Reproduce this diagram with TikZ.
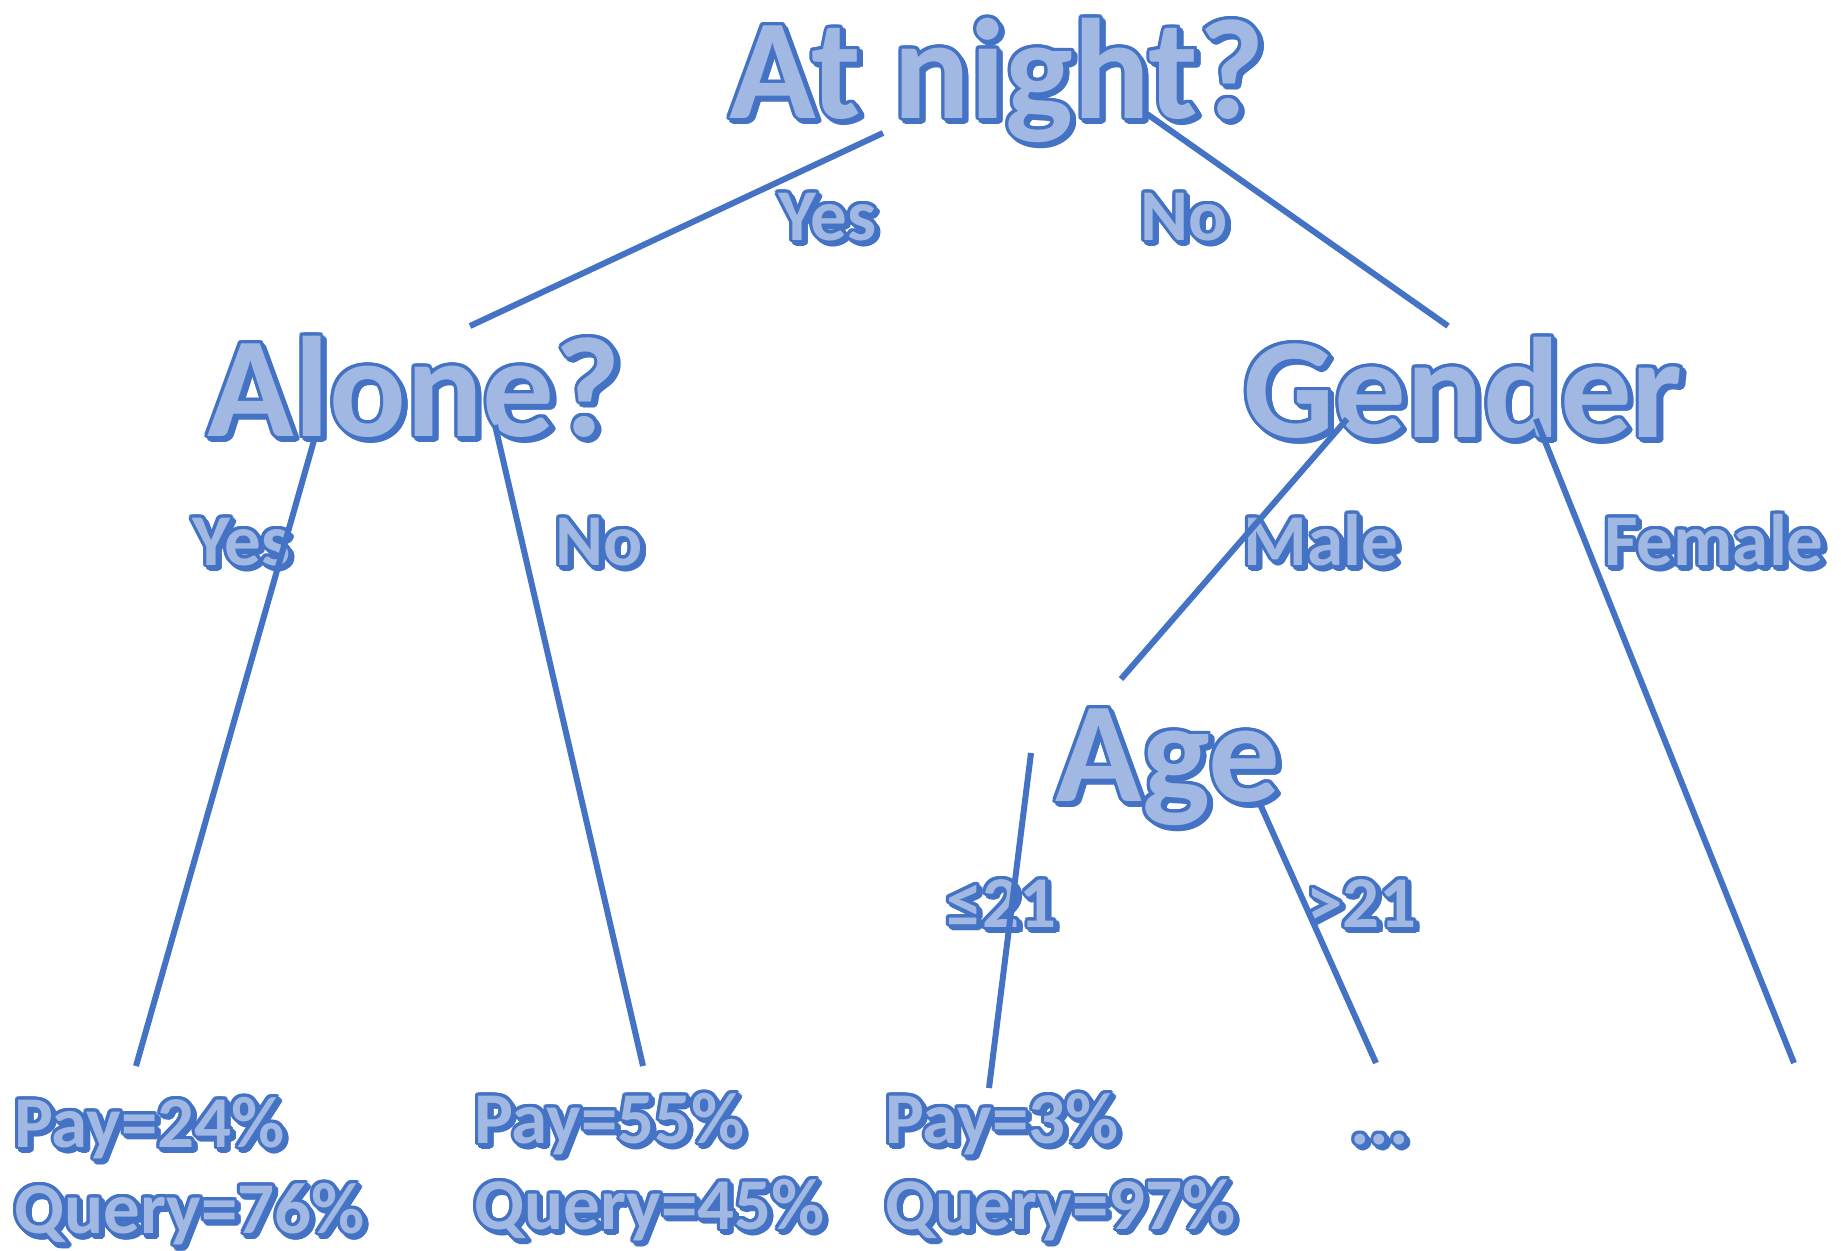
\documentclass[tikz,border=0pt]{standalone}
\usepackage{fontspec}
\setmainfont{Carlito}
\usepackage{xcolor}
\definecolor{artline}{HTML}{4472C4}
\definecolor{artfill}{RGB}{160,184,226}
\newlength\artw
\setlength\artw{1.5pt}
% outlined text with a small drop shadow
\newcommand\wordart[1]{%
  \foreach \ang in {0,22.5,...,337.5}{%
    \pgfmathsetlengthmacro\artdx{\artw*cos(\ang)}%
    \pgfmathsetlengthmacro\artdy{\artw*sin(\ang)}%
    \rlap{\kern\dimexpr\artdx+1.6pt\relax\raisebox{\dimexpr\artdy-1.6pt\relax}{\color{artline}#1}}%
    \rlap{\kern\artdx\raisebox{\artdy}{\color{artline}#1}}}%
  {\color{artfill}#1}}

\begin{document}
\begin{tikzpicture}[x=0.5pt,y=-0.5pt,
	question/.style={font=\fontsize{71.5}{76}\selectfont\bfseries, inner sep=0pt, anchor=base west},
	answer/.style={font=\fontsize{36.5}{40}\selectfont\bfseries, inner sep=0pt, anchor=base west},
	leaf/.style={font=\fontsize{36.5}{40}\selectfont\bfseries, inner sep=0pt, anchor=base west},
	branch/.style={draw=artline, line width=3pt}]
	\useasboundingbox (0,0) rectangle (1841,1250);
	% questions
	\node[question] (night) at (729,118) {\wordart{At night?}};
	\node[question] (alone) at (207,436) {\wordart{Alone?}};
	\node[question] (gender) at (1243,437) {\wordart{Gender}};
	\node[question] (age) at (1055,801) {\wordart{Age}};
	% answers
	\node[answer] (n-yes) at (778,240) {\wordart{Yes}};
	\node[answer] (n-no) at (1140,240) {\wordart{No}};
	\node[answer] (a-yes) at (192,565) {\wordart{Yes}};
	\node[answer] (a-no) at (555,565) {\wordart{No}};
	\node[answer] (g-male) at (1243,565) {\wordart{Male}};
	\node[answer] (g-female) at (1604,565) {\wordart{Female}};
	\node[answer] (age-le) at (946,927) {\wordart{≤21}};
	\node[answer] (age-gt) at (1306,927) {\wordart{>21}};
	% leaves
	\node[leaf] (pay1) at (14,1147) {\wordart{Pay=24\%}};
	\node[leaf] (query1) at (14,1233) {\wordart{Query=76\%}};
	\node[leaf] (pay2) at (474,1143) {\wordart{Pay=55\%}};
	\node[leaf] (query2) at (474,1229) {\wordart{Query=45\%}};
	\node[leaf] (pay3) at (885,1143) {\wordart{Pay=3\%}};
	\node[leaf] (query3) at (885,1229) {\wordart{Query=97\%}};
	\node[leaf] (more) at (1350,1144) {\wordart{...}};
	%%%%%
	\coordinate (night-l) at (883,133);
	\coordinate (night-r) at (1147,114);
	\coordinate (alone-t) at (470,326);
	\coordinate (gender-t) at (1448,326);
	\coordinate (alone-l) at (315,437);
	\coordinate (alone-r) at (495,425);
	\coordinate (leaf1-t) at (136,1066);
	\coordinate (leaf2-t) at (643,1066);
	\coordinate (gender-l) at (1347,419);
	\coordinate (gender-r) at (1536,419);
	\coordinate (age-t) at (1121,679);
	\coordinate (female-b) at (1794,1063);
	\coordinate (age-l) at (1031,753);
	\coordinate (age-r) at (1260,804);
	\coordinate (leaf3-t) at (989,1088);
	\coordinate (more-t) at (1376,1063);
	\draw[branch] (night-l) -- (alone-t);
	\draw[branch] (night-r) -- (gender-t);
	\draw[branch] (alone-l) -- (leaf1-t);
	\draw[branch] (alone-r) -- (leaf2-t);
	\draw[branch] (gender-l) -- (age-t);
	\draw[branch] (gender-r) -- (female-b);
	\draw[branch] (age-l) -- (leaf3-t);
	\draw[branch] (age-r) -- (more-t);
\end{tikzpicture}
\end{document}
